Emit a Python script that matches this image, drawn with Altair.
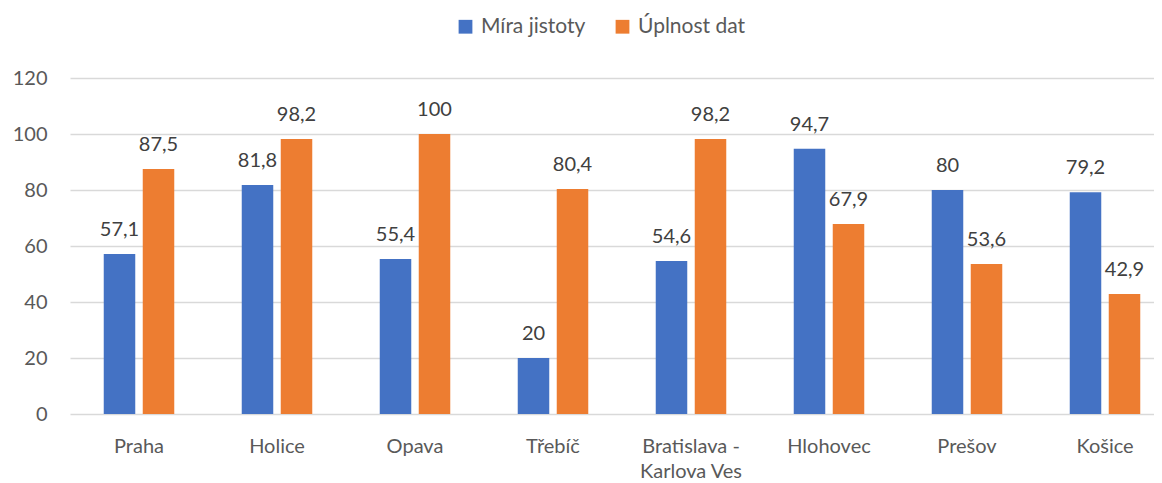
import altair as alt
import pandas as pd

categories = ["Praha", "Holice", "Opava", "Třebíč", "Bratislava - Karlova Ves",
              "Hlohovec", "Prešov", "Košice"]
series_names = ["Míra jistoty", "Úplnost dat"]
mira_jistoty = [57.1, 81.8, 55.4, 20, 54.6, 94.7, 80, 79.2]
uplnost_dat = [87.5, 98.2, 100, 80.4, 98.2, 67.9, 53.6, 42.9]
colors = ["#4472C4", "#ED7D31"]

rows = []
for c, a, b in zip(categories, mira_jistoty, uplnost_dat):
    rows.append({"cat": c, "series": series_names[0], "value": a})
    rows.append({"cat": c, "series": series_names[1], "value": b})
df = pd.DataFrame(rows)
df["label"] = df["value"].map(lambda v: f"{v:g}".replace(".", ","))

FONT = "Lato"
FS = 20

x_enc = alt.X("cat:N", sort=categories, title=None,
              scale=alt.Scale(paddingInner=0, paddingOuter=0, range=[0, 1104]),
              axis=alt.Axis(labelAngle=0, ticks=False, domain=False,
                            labelColor="#595959",
                            labelFontSize=FS, labelFont=FONT, labelPadding=22,
                            labelBaseline="top", labelLineHeight=25,
                            labelExpr="datum.label == 'Bratislava - Karlova Ves' ? ['Bratislava -', 'Karlova Ves'] : datum.label"))
xo_enc = alt.XOffset("series:N", sort=series_names,
                     scale=alt.Scale(paddingInner=0.192, paddingOuter=0.865))
y_enc = alt.Y("value:Q", title=None,
              scale=alt.Scale(domain=[0, 120], nice=False),
              axis=alt.Axis(values=[0, 20, 40, 60, 80, 100, 120], ticks=False,
                            domain=False, gridColor="#d9d9d9", gridWidth=1.3,
                            labelColor="#595959", labelFontSize=FS,
                            labelFont=FONT, labelPadding=23))

base = alt.Chart(df)

bars = base.mark_bar().encode(
    x=x_enc,
    xOffset=xo_enc,
    y=y_enc,
    color=alt.Color("series:N", sort=series_names,
                    scale=alt.Scale(domain=series_names, range=colors),
                    legend=alt.Legend(title=None, orient="none", direction="horizontal",
                                      legendX=385, legendY=-62,
                                      symbolType="square", symbolSize=190,
                                      symbolStrokeWidth=0,
                                      labelFont=FONT, labelFontSize=21,
                                      labelColor="#595959", columnPadding=26,
                                      labelOffset=5)),
)

labels = base.mark_text(baseline="alphabetic", dy=-18, font=FONT, fontSize=FS,
                        color="#404040").encode(
    x=alt.X("cat:N", sort=categories),
    xOffset=alt.XOffset("series:N", sort=series_names),
    y="value:Q",
    text="label:N",
)

chart = alt.layer(bars, labels).properties(
    width=1084, height=336,
    autosize=alt.AutoSizeParams(type="none"),
    padding={"left": 62, "top": 70, "right": 0, "bottom": 69},
).configure_view(stroke=None)

chart.save("out.html", embed_options={"renderer": "svg", "actions": False})
